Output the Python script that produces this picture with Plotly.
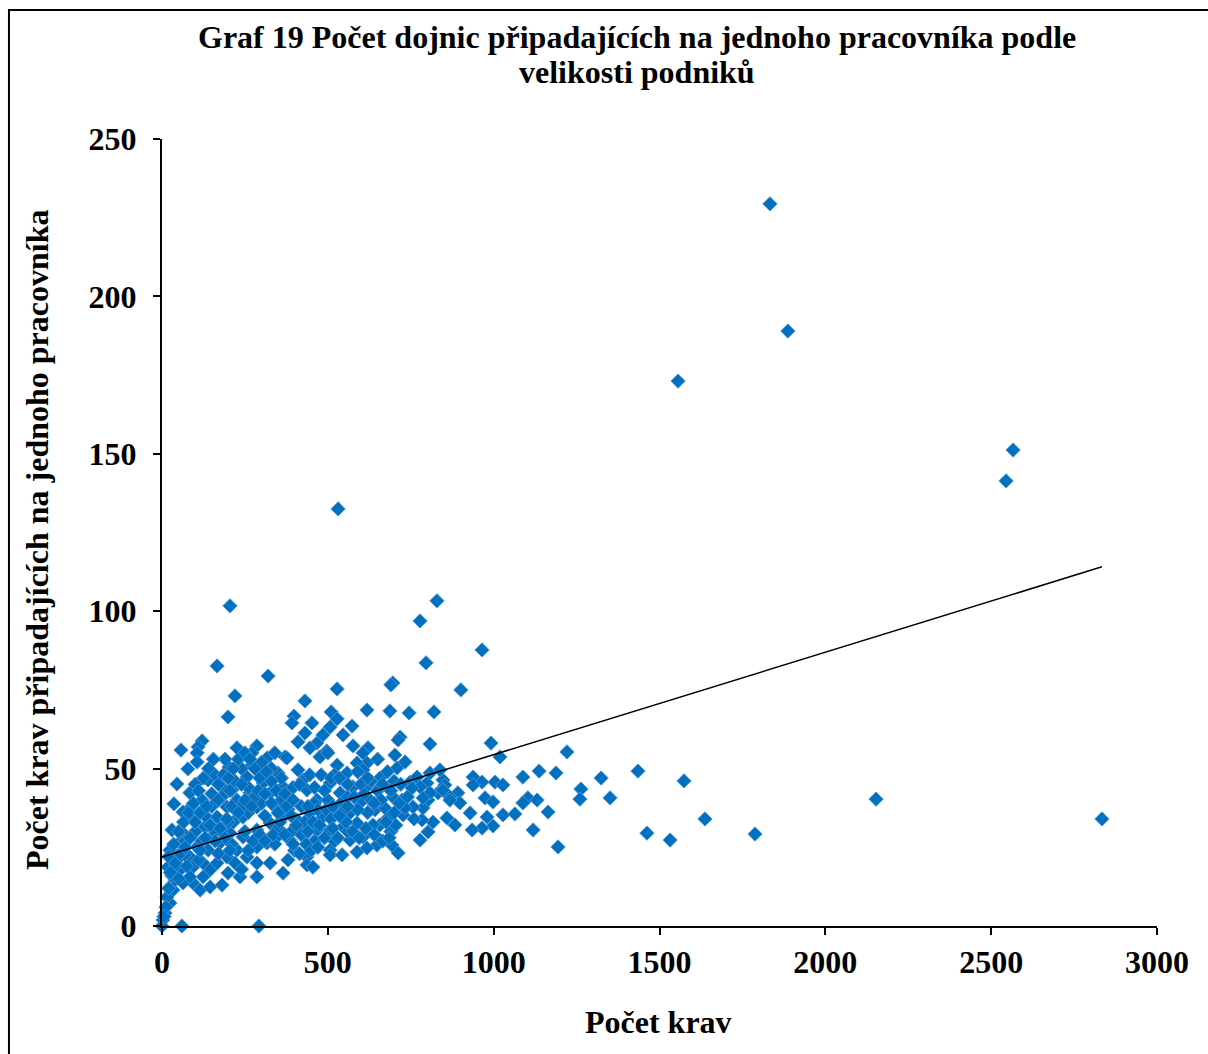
import plotly.graph_objects as go

# Herd size (number of cows) per farm
herd_size = [
    1833, 1887, 1556, 2566, 2545, 531, 205, 829, 778, 965,
    166, 796, 320, 901, 528, 220, 199, 431, 398, 392,
    696, 690, 618, 687, 745, 820, 718, 712, 808, 992,
    621, 606, 702, 1221, 1019, 510, 528, 452, 507, 573,
    431, 546, 410, 485, 467, 576, 497, 446, 57, 121,
    109, 106, 226, 286, 271, 371, 317, 2834, 2153, 1788,
    1637, 1574, 1532, 1462, 1435, 1351, 1324, 1263, 1260, 1194,
    1188, 1137, 1088, 938, 965, 1004, 1028, 938, 1164, 1103,
    1131, 1088, 974, 998, 1028, 1064, 929, 980, 998, 965,
    935, 1119, 883, 859, 892, 898, 868, 847, 853, 817,
    802, 778, 784, 802, 787, 757, 727, 733, 712, 693,
    648, 618, 709, 733, 618, 657, 621, 627, 642, 672,
    681, 657, 636, 696, 724, 748, 769, 799, 808, 838,
    832, 847, 868, 808, 778, 787, 754, 78, 106, 202,
    377, 271, 45, 139, 36, 84, 181, 211, 256, 305,
    350, 410, 425, 476, 500, 528, 588, 558, 606, 63,
    121, 93, 30, 63, 24, 54, 130, 166, 196, 226,
    244, 265, 286, 326, 365, 386, 437, 467, 507, 537,
    576, 597, 567, 528, 485, 446, 407, 365, 326, 286,
    244, 205, 175, 139, 106, 84, 45, 18, 54, 93,
    124, 145, 166, 196, 226, 256, 286, 317, 347, 386,
    425, 467, 507, 546, 588, 606, 567, 507, 437, 380,
    326, 286, 199, 181, 124, 93, 63, 33, 24, 9,
    3, 0, 60, 292, 115, 84, 145, 235, 286, 437,
    455, 507, 543, 588, 365, 15, 39, 69, 12, 6,
    20, 30, 40, 70, 100, 150, 180, 215, 260, 300,
    340, 380, 420, 460, 500, 540, 150, 180, 220, 260,
    300, 330, 360, 395, 445, 480, 520, 560, 600, 650,
    700, 340, 400, 460, 520, 560, 620, 120, 160, 200,
    240, 280, 310, 350, 390, 430, 470, 510, 550, 590,
    630, 660, 690, 720, 250, 210, 170, 110, 75, 50,
    130, 90, 100, 160, 190, 240, 300, 340,
    20, 35, 50, 65, 80, 95, 110, 125, 140, 155,
    25, 40, 55, 70, 85, 100, 115, 135, 150, 170,
    185, 200, 215, 230, 250, 265, 280, 295, 315, 330,
    345, 360, 375, 390, 405, 420, 435, 450, 470, 490,
    515, 530, 555, 575, 595, 615, 640, 665, 685, 705,
    190, 205, 220, 240, 260, 275, 295, 310, 335, 355,
    370, 395, 415, 440, 455, 475, 495, 515, 535, 560,
    580, 610, 640, 665, 690, 715, 740, 760, 700, 675,
    145, 160, 175, 195, 210, 230, 250, 270, 290, 310,
    330, 350, 370, 395, 415, 440, 460, 490, 510, 535,
    560, 590, 620, 650, 680, 240, 205, 170, 130, 115,
]

# Cows per worker on the same farms
cows_per_worker = [
    229.4, 189.0, 173.1, 151.2, 141.4, 132.5, 101.7, 103.3, 96.9, 87.7,
    82.6, 83.6, 79.4, 75.0, 75.3, 73.1, 66.4, 71.5, 66.7, 64.5,
    77.2, 76.6, 68.6, 68.3, 67.7, 68.0, 60.0, 59.1, 57.8, 58.1,
    56.6, 55.0, 54.3, 55.3, 53.7, 68.0, 65.8, 64.5, 63.2, 63.5,
    61.3, 60.7, 58.5, 60.7, 58.1, 57.2, 55.6, 56.6, 55.9, 58.8,
    56.9, 55.0, 56.6, 57.2, 55.0, 53.7, 53.4, 34.0, 40.3, 29.2,
    34.0, 46.1, 27.3, 29.5, 49.2, 40.7, 47.0, 43.5, 40.3, 25.1,
    48.6, 49.2, 47.3, 47.3, 45.7, 45.7, 44.8, 44.8, 36.2, 40.7,
    40.0, 39.1, 40.7, 39.4, 35.3, 35.6, 35.9, 34.6, 31.8, 31.1,
    30.5, 30.5, 32.1, 34.3, 42.3, 39.1, 41.0, 46.4, 44.8, 33.0,
    29.9, 27.3, 33.7, 40.0, 37.5, 37.8, 35.3, 37.5, 23.2, 25.7,
    25.7, 24.8, 50.2, 52.1, 51.8, 47.0, 44.8, 40.0, 36.9, 37.5,
    34.3, 32.1, 32.1, 41.0, 40.0, 45.7, 47.3, 45.4, 48.6, 49.6,
    42.3, 43.2, 40.0, 42.3, 44.2, 40.7, 43.8, 49.9, 52.1, 50.5,
    53.4, 51.1, 45.1, 46.4, 38.8, 42.3, 44.2, 43.2, 47.3, 45.4,
    48.6, 49.6, 46.4, 53.7, 55.0, 51.1, 51.8, 48.6, 49.6, 36.2,
    40.0, 33.7, 30.5, 29.5, 24.1, 26.7, 31.5, 34.6, 37.8, 40.0,
    34.6, 42.3, 37.8, 42.3, 44.2, 40.0, 43.2, 40.0, 45.4, 42.3,
    44.2, 39.1, 35.9, 36.9, 34.6, 35.9, 33.7, 34.6, 32.7, 30.5,
    28.3, 29.5, 26.4, 24.1, 25.1, 21.9, 21.0, 18.7, 17.8, 18.7,
    20.0, 17.8, 20.0, 21.9, 24.1, 21.9, 25.1, 26.4, 28.3, 27.3,
    29.5, 30.5, 30.5, 31.5, 32.7, 28.3, 27.3, 24.1, 21.9, 21.0,
    20.0, 20.0, 16.8, 13.0, 15.6, 13.7, 13.7, 11.4, 7.3, 4.1,
    1.9, 0.0, 0.0, 0.0, 11.4, 15.6, 12.4, 15.6, 15.6, 19.4,
    18.7, 22.6, 22.6, 23.5, 16.8, 9.2, 14.6, 22.6, 6.0, 3.0,
    12.0, 16.0, 19.0, 27.0, 30.0, 28.0, 30.0, 33.0, 36.0, 39.0,
    38.0, 37.0, 38.0, 39.0, 40.0, 39.0, 38.0, 41.0, 46.0, 44.0,
    48.0, 50.0, 47.0, 44.0, 48.0, 48.0, 48.0, 41.0, 45.0, 43.0,
    46.0, 26.0, 24.0, 27.0, 27.0, 30.0, 36.0, 27.0, 30.0, 33.0,
    38.0, 41.0, 35.0, 31.0, 30.0, 33.0, 37.0, 34.0, 37.0, 37.0,
    46.0, 40.0, 30.0, 45.0, 30.0, 26.0, 23.0, 21.0, 19.0, 15.0,
    35.0, 38.0, 45.0, 48.0, 53.0, 50.0, 52.0, 55.0,
    22.0, 26.0, 30.0, 33.0, 36.0, 39.0, 43.0, 47.0, 50.0, 53.0,
    17.0, 20.0, 23.0, 25.0, 28.0, 33.0, 36.0, 38.0, 42.0, 45.0,
    48.0, 47.0, 50.0, 53.0, 55.0, 53.0, 50.0, 47.0, 49.0, 46.0,
    43.0, 40.0, 38.0, 35.0, 32.0, 29.0, 26.0, 24.0, 25.0, 28.0,
    31.0, 28.0, 33.0, 30.0, 28.0, 31.0, 29.0, 27.0, 28.0, 32.0,
    28.0, 24.0, 20.0, 18.0, 24.0, 27.0, 29.0, 27.0, 29.0, 33.0,
    29.0, 26.0, 23.0, 30.0, 33.0, 32.0, 37.0, 38.0, 35.0, 38.0,
    41.0, 42.0, 39.0, 45.0, 43.0, 39.0, 41.0, 34.0, 36.0, 33.0,
    32.0, 27.0, 31.0, 34.0, 38.0, 36.0, 40.0, 38.0, 43.0, 42.0,
    39.0, 36.0, 42.0, 40.0, 45.0, 38.0, 44.0, 43.0, 47.0, 47.0,
    45.0, 49.0, 47.0, 53.0, 49.0, 45.0, 43.0, 40.0, 28.0, 24.0,
]

# Linear trend line: cows_per_worker = trend_intercept + trend_slope * herd_size
trend_intercept = 21.9
trend_slope = 0.03253

x_ticks = [0, 500, 1000, 1500, 2000, 2500, 3000]
y_ticks = [0, 50, 100, 150, 200, 250]

title_line1 = "Graf 19 Počet dojnic připadajících na jednoho pracovníka podle"
title_line2 = "velikosti podniků"
x_title = "Počet krav"
y_title = "Počet krav připadajících na jednoho pracovníka"

FONT = "Liberation Serif, Times New Roman, serif"

trend_x = [0, max(herd_size)]
trend_y = [trend_intercept + trend_slope * v for v in trend_x]

fig = go.Figure()
fig.add_trace(go.Scatter(
    x=herd_size, y=cows_per_worker, mode="markers",
    marker=dict(symbol="diamond", size=11, color="#0070C0",
                line=dict(color="#4F93D3", width=1)),
    cliponaxis=False, showlegend=False, hoverinfo="x+y",
))
fig.add_trace(go.Scatter(
    x=trend_x, y=trend_y, mode="lines",
    line=dict(color="black", width=1.5),
    showlegend=False, hoverinfo="skip",
))

axis_common = dict(
    showline=True, linecolor="black", linewidth=2,
    ticks="outside", ticklen=7, tickwidth=2, tickcolor="black",
    showgrid=False, zeroline=False, mirror=False,
    tickfont=dict(family=FONT, size=32, color="black", weight="bold"),
)

bold = lambda size: dict(family=FONT, size=size, color="black", weight="bold")

fig.update_layout(
    width=1208, height=1054,
    margin=dict(l=162, r=51, t=139, b=128, pad=0),
    paper_bgcolor="white", plot_bgcolor="white",
    xaxis=dict(range=[0, 3000], tickvals=x_ticks, **axis_common),
    yaxis=dict(range=[0, 250], tickvals=y_ticks, ticklabelstandoff=10, **axis_common),
    font=dict(family=FONT, color="black"),
    annotations=[
        dict(text=title_line1, xref="paper", yref="paper",
             x=0.4774, y=1.1296, xanchor="center", yanchor="middle",
             showarrow=False, font=bold(32)),
        dict(text=title_line2, xref="paper", yref="paper",
             x=0.4774, y=1.0851, xanchor="center", yanchor="middle",
             showarrow=False, font=bold(32)),
        dict(text=x_title, xref="paper", yref="paper",
             x=0.4985, y=-0.122, xanchor="center", yanchor="middle",
             showarrow=False, font=bold(32)),
        dict(text=y_title, xref="paper", yref="paper",
             x=-0.1256, y=0.4905, xanchor="center", yanchor="middle",
             textangle=-90, showarrow=False, font=bold(32)),
    ],
    shapes=[
        dict(type="rect", xref="paper", yref="paper",
             x0=-0.1538, x1=1.057, y0=-0.175, y1=1.1639,
             line=dict(color="black", width=2), fillcolor="rgba(0,0,0,0)",
             layer="below"),
    ],
)

fig.write_html("out.html")
